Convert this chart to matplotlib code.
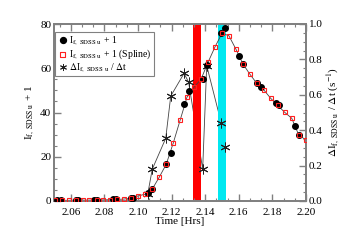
import matplotlib
matplotlib.use("Agg")
import matplotlib.pyplot as plt
from matplotlib.ticker import MultipleLocator, AutoMinorLocator

plt.rcParams['font.family'] = ['Liberation Serif', 'DejaVu Serif']
plt.rcParams['mathtext.fontset'] = 'stix'

# observed light curve (black circles)
obs_t = [2.0516, 2.0542, 2.0631, 2.0645, 2.0740, 2.0754, 2.0850, 2.0869, 2.0958, 2.0972,
         2.1058, 2.1085, 2.1165, 2.1195, 2.1274, 2.1301, 2.1385, 2.1409, 2.1496, 2.1516,
         2.1603, 2.1627, 2.1710, 2.1730, 2.1820, 2.1838, 2.1935, 2.1957]
obs_i = [0.3, 0.3, 0.4, 0.4, 0.5, 0.5, 0.7, 0.7, 1.2, 1.5,
         3.8, 5.3, 16.6, 21.5, 44.0, 49.7, 55.2, 61.5, 76.0, 78.3,
         65.5, 62.0, 53.5, 51.4, 44.4, 43.2, 34.0, 29.7]

# spline points (red squares)
spl_t = [2.0504, 2.0545, 2.0587, 2.0628, 2.0670, 2.0711, 2.0753, 2.0794, 2.0836, 2.0877,
         2.0919, 2.0960, 2.1002, 2.1043, 2.1085, 2.1126, 2.1168, 2.1209, 2.1251, 2.1292,
         2.1334, 2.1375, 2.1417, 2.1458, 2.1500, 2.1541, 2.1583, 2.1624, 2.1666, 2.1707,
         2.1749, 2.1790, 2.1832, 2.1873, 2.1915, 2.1956, 2.1998]
spl_i = [0.3, 0.3, 0.3, 0.4, 0.4, 0.4, 0.5, 0.5, 0.6, 0.7,
         0.9, 1.4, 2.3, 3.1, 5.4, 10.7, 16.6, 26.0, 36.6, 47.0,
         51.5, 55.0, 62.7, 69.6, 75.8, 74.7, 68.6, 62.0, 57.3, 53.2,
         50.2, 46.4, 43.2, 40.1, 37.4, 30.0, 27.6]

# derivative (asterisks, right axis)
der_t = [2.1058, 2.1085, 2.1165, 2.1195, 2.1274, 2.1301, 2.1385, 2.1409, 2.1496, 2.1516]
der_v = [0.04, 0.18, 0.354, 0.593, 0.721, 0.672, 0.181, 0.765, 0.439, 0.307]

red_band = (2.1329, 2.1373)
cyan_band = (2.1478, 2.1522)

gray = '#808080'
star = (6, 2, 0)

fig = plt.figure(figsize=(3.6, 2.4), dpi=100)
ax = fig.add_axes([0.15, 0.1625, 0.70, 0.7375])
ax2 = ax.twinx()
ax.set_zorder(ax2.get_zorder() + 1)
ax.patch.set_visible(False)

ax2.axvspan(*red_band, color='#ff0000', lw=0, zorder=2)
ax2.axvspan(*cyan_band, color='#00e8f0', lw=0, zorder=2)
ax2.plot(der_t, der_v, color='#444444', lw=0.6, zorder=1)
ax2.plot(der_t, der_v, ls='none', marker=star, ms=7, mew=0.7, color='#222222', zorder=3)

ax.plot(spl_t, spl_i, color='#444444', lw=0.6, zorder=1)
ax.plot(obs_t, obs_i, ls='none', marker='o', ms=4, color='black', zorder=3)
ax.plot(spl_t, spl_i, ls='none', marker='s', ms=3.5, mfc='none', mec='#ff2020', mew=0.8, zorder=4)

ax.set_xlim(2.05, 2.20)
ax.set_ylim(0, 80)
ax2.set_ylim(0, 1)

ax.xaxis.set_major_locator(MultipleLocator(0.02))
ax.xaxis.set_minor_locator(AutoMinorLocator(3))
ax.yaxis.set_major_locator(MultipleLocator(20))
ax.yaxis.set_minor_locator(MultipleLocator(5))
ax2.yaxis.set_major_locator(MultipleLocator(0.2))
ax2.yaxis.set_minor_locator(MultipleLocator(0.05))
ax.xaxis.set_major_formatter(plt.FormatStrFormatter('%.2f'))
ax2.yaxis.set_major_formatter(plt.FormatStrFormatter('%.1f'))

for a in (ax, ax2):
    for s in a.spines.values():
        s.set_color(gray)
        s.set_linewidth(1.3)
    a.tick_params(which='both', direction='in', color=gray, labelsize=8, pad=2)
    a.tick_params(which='major', length=5, width=1)
    a.tick_params(which='minor', length=2.5, width=0.8)
ax.tick_params(which='both', top=True, right=False)
ax.tick_params(axis='x', pad=5)
ax2.tick_params(which='both', right=True, left=False)

ax.set_xlabel('Time [Hrs]', fontsize=8, labelpad=0)
ax.set_ylabel(r'I$_{\rm f,\ SDSS\ u}$ + 1', fontsize=8, labelpad=2)
ax2.set_ylabel(r'$\Delta$I$_{\rm f,\ SDSS\ u}$ / $\Delta$t (s$^{-1}$)', fontsize=8, labelpad=2)

h1 = ax.scatter([], [], marker='o', s=18, color='black')
h2 = ax.scatter([], [], marker='s', s=14, facecolors='none', edgecolors='#ff2020', linewidths=0.8)
h3 = ax.scatter([], [], marker=star, s=20, color='#222222', linewidths=0.7)
leg = ax.legend([h1, h2, h3],
                [r'I$_{\rm f,\ SDSS\ u}$ + 1',
                 r'I$_{\rm f,\ SDSS\ u}$ + 1 (Spline)',
                 r'$\Delta$I$_{\rm f,\ SDSS\ u}$ / $\Delta$t'],
                loc='upper left', bbox_to_anchor=(0.005, 0.955), fontsize=7,
                fancybox=False, framealpha=1, edgecolor=gray,
                handletextpad=0.2, handlelength=1.0,
                borderpad=0.25, labelspacing=0.0, borderaxespad=0.0)
leg.get_frame().set_linewidth(0.8)

fig.savefig('out.png', dpi=100)
